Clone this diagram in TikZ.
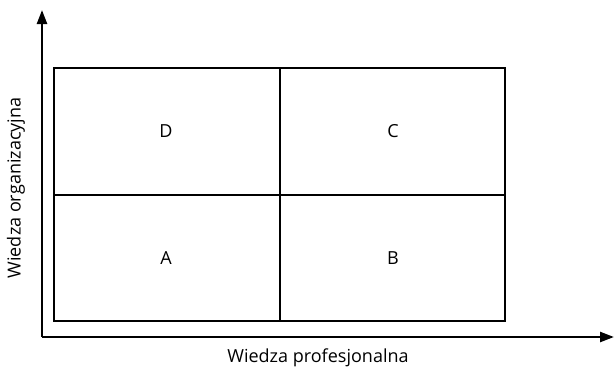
\documentclass[tikz,border=0pt]{standalone}
\usepackage{fontspec}
\setmainfont{Open Sans}
\usetikzlibrary{arrows.meta}
\begin{document}
\begin{tikzpicture}[x=1pt,y=-1pt,
  axis/.style={line width=2.4pt,-{Triangle[length=14pt,width=10pt]}},
  box/.style={line width=2pt},
  lbl/.style={font=\fontsize{18}{20}\selectfont},
  cell/.style={font=\fontsize{18}{20}\selectfont}]
\useasboundingbox (0,0) rectangle (614,373);
\coordinate (O) at (42,337);
\coordinate (Ytop) at (42,10);
\coordinate (Xend) at (614,337);
\draw[axis] (O) -- (Ytop);
\draw[axis] (O) -- (Xend);
\draw[box] (54,68) rectangle (505,321);
\draw[box] (279.5,68) -- (279.5,321);
\draw[box] (54,194.5) -- (505,194.5);
\node[cell] (D) at (166,131) {D};
\node[cell] (C) at (393,131) {C};
\node[cell] (A) at (166,258) {A};
\node[cell] (B) at (393,258) {B};
\node[lbl] (xl) at (318,358) {Wiedza profesjonalna};
\node[lbl,rotate=90] (yl) at (16,188) {Wiedza organizacyjna};
\end{tikzpicture}
\end{document}
